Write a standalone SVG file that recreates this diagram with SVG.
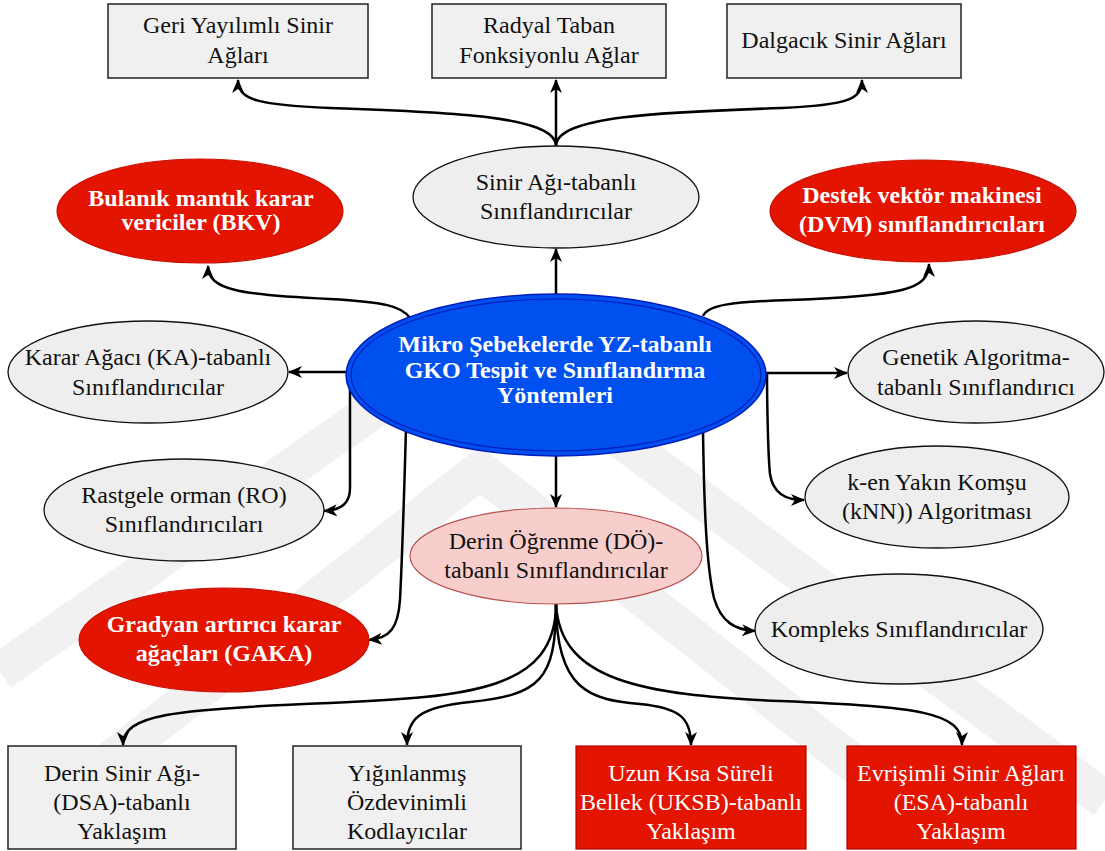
<svg xmlns="http://www.w3.org/2000/svg" width="1105" height="851" viewBox="0 0 1105 851">
<defs>
<style>
.t{font-size:24px;fill:#111;text-anchor:middle}
.b{font-size:24px;font-weight:bold;fill:#fff;text-anchor:middle}
.w{fill:#fff}
.box{fill:#f0f0f0;stroke:#222;stroke-width:1.5}
.rbox{fill:#e31400;stroke:#b20000;stroke-width:1.2}
.gel{fill:#eeeeee;stroke:#111;stroke-width:1.3}
.rel{fill:#e31400;stroke:#c81000;stroke-width:1.2}
.edge{fill:none;stroke:#000;stroke-width:2.5;marker-end:url(#arr)}
.wm{fill:none;stroke:#f1f1f1;stroke-width:38;stroke-linejoin:miter}
</style>
<marker id="arr" viewBox="0 0 14 14" refX="13" refY="7" markerWidth="14" markerHeight="14" markerUnits="userSpaceOnUse" orient="auto">
<path d="M0,1 L14,7 L0,13 L4,7 Z" fill="#000"/>
</marker>
</defs>
<rect width="1105" height="851" fill="#fff"/>
<g id="watermark">
<polyline class="wm" points="0,672 480,335 1105,800"/>
<polyline class="wm" points="60,800 480,470 900,800"/>
</g>
<g id="connectors">
<path class="edge" d="M556,146 L556,80"/>
<path class="edge" d="M556,146 C556,116 450,112 330,108 C258,105 238,100 238,80"/>
<path class="edge" d="M556,146 C556,116 662,112 782,108 C846,105 862,100 862,80"/>
<path class="edge" d="M556,295 L556,249"/>
<path class="edge" d="M410,318 C402,306 384,302 330,299 C240,295 208,290 208,266"/>
<path class="edge" d="M703,316 C708,305 730,302 790,300 C900,296 929,290 929,264"/>
<path class="edge" d="M347,372 L289,372"/>
<path class="edge" d="M350,372 C350,400 350,460 350,488 C350,503 342,510 324,511"/>
<path class="edge" d="M406,428 C404,500 402,560 400,600 C398,628 390,638 369,640"/>
<path class="edge" d="M766,373 L847,373"/>
<path class="edge" d="M767,373 C767,400 768,455 770,474 C773,494 786,500 804,500"/>
<path class="edge" d="M703,430 C704,500 706,565 714,598 C721,622 735,630 755,631"/>
<path class="edge" d="M556,455 L556,507"/>
<path class="edge" d="M556,604 C556,690 470,697 330,703 C170,709 123,715 123,745"/>
<path class="edge" d="M556,604 C556,680 540,695 470,702 C420,707 407,718 407,745"/>
<path class="edge" d="M556,604 C556,690 590,700 640,704 C680,708 691,718 691,745"/>
<path class="edge" d="M556,604 C560,680 640,695 780,701 C920,707 962,712 962,745"/>
</g>
<g font-family="'Liberation Serif', 'Times New Roman', Tinos, 'DejaVu Serif', serif">
<g id="n-geri">
<rect class="box" x="108" y="4" width="260" height="74"/>
<text class="t" x="238" y="33">Geri Yayılımlı Sinir</text>
<text class="t" x="238" y="63">Ağları</text>
</g>
<g id="n-radyal">
<rect class="box" x="432" y="4" width="234" height="74"/>
<text class="t" x="549" y="33">Radyal Taban</text>
<text class="t" x="549" y="63">Fonksiyonlu Ağlar</text>
</g>
<g id="n-dalgacik">
<rect class="box" x="727" y="4" width="234" height="74"/>
<text class="t" x="844" y="48">Dalgacık Sinir Ağları</text>
</g>
<g id="n-sinir">
<ellipse class="gel" cx="556" cy="197" rx="143" ry="51"/>
<text class="t" x="556" y="190">Sinir Ağı-tabanlı</text>
<text class="t" x="556" y="219">Sınıflandırıcılar</text>
</g>
<g id="n-bkv">
<ellipse class="rel" cx="200" cy="211" rx="143" ry="52"/>
<text class="b" x="201" y="206">Bulanık mantık karar</text>
<text class="b" x="201" y="230">vericiler (BKV)</text>
</g>
<g id="n-dvm">
<ellipse class="rel" cx="923" cy="211" rx="153" ry="51"/>
<text class="b" x="922" y="203">Destek vektör makinesi</text>
<text class="b" x="922" y="232">(DVM) sınıflandırıcıları</text>
</g>
<g id="n-center">
<ellipse cx="556" cy="375" rx="210" ry="81" fill="#0050ef" stroke="#001dbc" stroke-width="1.5"/>
<ellipse cx="556" cy="375" rx="205" ry="76" fill="none" stroke="#001dbc" stroke-width="1.2"/>
<text class="b" x="555" y="352">Mikro Şebekelerde YZ-tabanlı</text>
<text class="b" x="555" y="378">GKO Tespit ve Sınıflandırma</text>
<text class="b" x="555" y="403">Yöntemleri</text>
</g>
<g id="n-ka">
<ellipse class="gel" cx="148" cy="372" rx="140" ry="51"/>
<text class="t" x="148" y="365">Karar Ağacı (KA)-tabanlı</text>
<text class="t" x="148" y="395">Sınıflandırıcılar</text>
</g>
<g id="n-ro">
<ellipse class="gel" cx="184" cy="510" rx="140" ry="51"/>
<text class="t" x="184" y="503">Rastgele orman (RO)</text>
<text class="t" x="184" y="532">Sınıflandırıcıları</text>
</g>
<g id="n-gaka">
<ellipse class="rel" cx="224" cy="640" rx="145" ry="52"/>
<text class="b" x="224" y="632">Gradyan artırıcı karar</text>
<text class="b" x="224" y="661">ağaçları (GAKA)</text>
</g>
<g id="n-do">
<ellipse cx="556" cy="556" rx="146" ry="48" fill="#f8cecc" stroke="#b85450" stroke-width="1.2"/>
<text class="t" x="556" y="549">Derin Öğrenme (DÖ)-</text>
<text class="t" x="556" y="578">tabanlı Sınıflandırıcılar</text>
</g>
<g id="n-ga">
<ellipse class="gel" cx="976" cy="372" rx="128" ry="51"/>
<text class="t" x="976" y="365">Genetik Algoritma-</text>
<text class="t" x="976" y="395">tabanlı Sınıflandırıcı</text>
</g>
<g id="n-knn">
<ellipse class="gel" cx="937" cy="497" rx="132" ry="51"/>
<text class="t" x="937" y="490">k-en Yakın Komşu</text>
<text class="t" x="937" y="519">(kNN)) Algoritması</text>
</g>
<g id="n-kompleks">
<ellipse class="gel" cx="899" cy="629" rx="144" ry="55"/>
<text class="t" x="899" y="637">Kompleks Sınıflandırıcılar</text>
</g>
<g id="n-dsa">
<rect class="box" x="8" y="746" width="228" height="103"/>
<text class="t" x="122" y="781">Derin Sinir Ağı-</text>
<text class="t" x="122" y="810">(DSA)-tabanlı</text>
<text class="t" x="122" y="839">Yaklaşım</text>
</g>
<g id="n-yigin">
<rect class="box" x="293" y="746" width="228" height="103"/>
<text class="t" x="407" y="781">Yığınlanmış</text>
<text class="t" x="407" y="810">Özdevinimli</text>
<text class="t" x="407" y="839">Kodlayıcılar</text>
</g>
<g id="n-uksb">
<rect class="rbox" x="576" y="746" width="230" height="103"/>
<text class="t w" x="691" y="781">Uzun Kısa Süreli</text>
<text class="t w" x="691" y="810">Bellek (UKSB)-tabanlı</text>
<text class="t w" x="691" y="839">Yaklaşım</text>
</g>
<g id="n-esa">
<rect class="rbox" x="847" y="746" width="229" height="103"/>
<text class="t w" x="961" y="781">Evrişimli Sinir Ağları</text>
<text class="t w" x="961" y="810">(ESA)-tabanlı</text>
<text class="t w" x="961" y="839">Yaklaşım</text>
</g>
</g>
</svg>
